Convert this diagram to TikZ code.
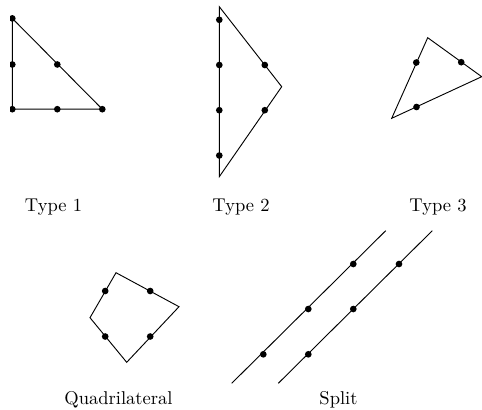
\documentclass[tikz,border=0pt]{standalone}
\begin{document}
\begin{tikzpicture}[x=0.54pt,y=-0.54pt,
  edge/.style={line width=0.5pt, line join=miter},
  dot/.style={circle, fill=black, inner sep=0pt, minimum size=3.6pt},
  lbl/.style={anchor=base, inner sep=0pt, font=\normalsize}]
\useasboundingbox (0,0) rectangle (482,409);
\clip (0,0) rectangle (482,409);
% ---------- Type 1 ----------
\begin{scope}
\clip (10,0) rectangle (160,180);
\coordinate (a1) at (12.3,18.4);
\coordinate (a2) at (12.3,64.5);
\coordinate (a3) at (12.3,109.2);
\coordinate (a4) at (57.3,64.5);
\coordinate (a5) at (57.3,109.2);
\coordinate (a6) at (102.3,109.2);
\draw[edge] (a1) -- (a3) -- (a6) -- cycle;
\foreach \p in {a1,a2,a3,a4,a5,a6} \node[dot] (d\p) at (\p) {};
\end{scope}
\node[lbl] (l1) at (53.5,211.7) {Type 1};
% ---------- Type 2 ----------
\coordinate (b1) at (219.3,6.7);
\coordinate (b2) at (281.7,86.7);
\coordinate (b3) at (219.3,176.7);
\coordinate (b4) at (219.3,19.8);
\coordinate (b5) at (219.3,65);
\coordinate (b6) at (219.3,110.2);
\coordinate (b7) at (219.3,155.5);
\coordinate (b8) at (264.8,65);
\coordinate (b9) at (264.8,110.2);
\draw[edge] (b1) -- (b2) -- (b3) -- cycle;
\foreach \p in {b4,b5,b6,b7,b8,b9} \node[dot] (d\p) at (\p) {};
\node[lbl] (l2) at (241,211.7) {Type 2};
% ---------- Type 3 ----------
\coordinate (c1) at (427.7,37.7);
\coordinate (c2) at (481.7,76.7);
\coordinate (c3) at (391.7,118.3);
\coordinate (c4) at (416.3,62.5);
\coordinate (c5) at (461.2,62.2);
\coordinate (c6) at (416.5,107);
\draw[edge] (c1) -- (c2) -- (c3) -- cycle;
\foreach \p in {c4,c5,c6} \node[dot] (d\p) at (\p) {};
\node[lbl] (l3) at (438,211.7) {Type 3};
% ---------- Quadrilateral ----------
\coordinate (q1) at (116,272.7);
\coordinate (q2) at (179,306.7);
\coordinate (q3) at (126.7,362.3);
\coordinate (q4) at (90,317.7);
\coordinate (q5) at (105.2,291);
\coordinate (q6) at (150.2,291);
\coordinate (q7) at (105.2,336.5);
\coordinate (q8) at (150.2,336.5);
\draw[edge] (q1) -- (q2) -- (q3) -- (q4) -- cycle;
\foreach \p in {q5,q6,q7,q8} \node[dot] (d\p) at (\p) {};
\node[lbl] (l4) at (118.5,404) {Quadrilateral};
% ---------- Split ----------
\coordinate (s1) at (231.7,383.3);
\coordinate (s2) at (385.7,230.7);
\coordinate (s3) at (278.3,383.3);
\coordinate (s4) at (432.3,230.7);
\coordinate (s5) at (263.3,354.3);
\coordinate (s6) at (308.3,309);
\coordinate (s7) at (353.3,264);
\coordinate (s8) at (308.3,354.3);
\coordinate (s9) at (353.3,309);
\coordinate (s10) at (399,264);
\draw[edge] (s1) -- (s2);
\draw[edge] (s3) -- (s4);
\foreach \p in {s5,s6,s7,s8,s9,s10} \node[dot] (d\p) at (\p) {};
\node[lbl] (l5) at (338.5,404) {Split};
\end{tikzpicture}
\end{document}
